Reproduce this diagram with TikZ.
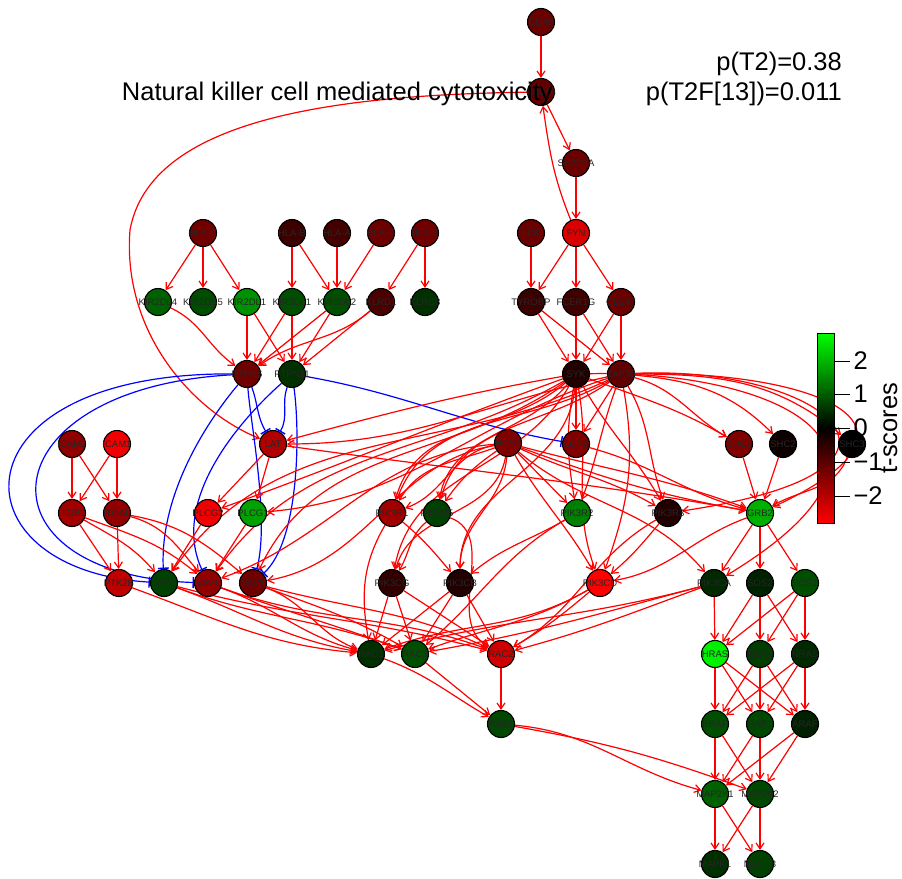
\documentclass[tikz,border=0pt]{standalone}
\usepackage{fontspec}
\setmainfont{Liberation Sans}
\usetikzlibrary{arrows.meta}
\pgfdeclarelayer{bg}
\pgfsetlayers{bg,main}
\newcommand{\gl}[1]{\makebox[0pt]{#1}}

\begin{document}
\begin{tikzpicture}[x=1pt,y=-1pt,
  gene/.style={circle,draw=black,line width=1.1pt,minimum size=27pt,inner sep=0pt,
    font=\fontsize{9.5}{9.5}\selectfont,text=black!85},
  act/.style={red,line width=1.2pt,-{Straight Barb[length=6pt,width=8pt]}},
  inh/.style={blue,line width=1.2pt,-{Bar[width=11pt,line width=1.4pt]}},
  big/.style={font=\fontsize{25.5}{25.5}\selectfont,inner sep=0pt}]
\useasboundingbox (0,0) rectangle (902,878);
% genes, row by row
\node[gene,fill=red!42!black] (CD48) at (541,22) {\gl{CD48}};
\node[gene,fill=red!38!black] (CD244) at (541,92) {\gl{CD244}};
\node[gene,fill=red!42!black] (SH2D1A) at (576,163) {\gl{SH2D1A}};
\node[gene,fill=red!44!black] (HLAC) at (203,233) {\gl{HLA-C}};
\node[gene,fill=red!23!black] (HLAB) at (292,233) {\gl{HLA-B}};
\node[gene,fill=red!26!black] (HLAA) at (337,233) {\gl{HLA-A}};
\node[gene,fill=red!42!black] (HLAG) at (381,233) {\gl{HLA-G}};
\node[gene,fill=red!44!black] (HLAE) at (425,233) {\gl{HLA-E}};
\node[gene,fill=red!42!black] (LCK) at (531,233) {\gl{LCK}};
\node[gene,fill=red!85!black] (FYN) at (576,233) {\gl{FYN}};
\node[gene,fill=green!38!black] (KIR2DL4) at (158,302) {\gl{KIR2DL4}};
\node[gene,fill=green!30!black] (KIR2DS5) at (203,302) {\gl{KIR2DS5}};
\node[gene,fill=green!57!black] (KIR2DL1) at (247,302) {\gl{KIR2DL1}};
\node[gene,fill=green!31!black] (KIR3DL1) at (292,302) {\gl{KIR3DL1}};
\node[gene,fill=green!31!black] (KIR3DL2) at (337,302) {\gl{KIR3DL2}};
\node[gene,fill=red!29!black] (KLRD1) at (381,302) {\gl{KLRD1}};
\node[gene,fill=green!19!black] (KLRC3) at (425,302) {\gl{KLRC3}};
\node[gene,fill=red!23!black] (TYROBP) at (531,302) {\gl{TYROBP}};
\node[gene,fill=red!25!black] (FCER1G) at (576,302) {\gl{FCER1G}};
\node[gene,fill=red!42!black] (CD247) at (621,302) {\gl{CD247}};
\node[gene,fill=red!44!black] (PTPN6) at (247,374) {\gl{PTPN6}};
\node[gene,fill=green!19!black] (PTPN11) at (292,374) {\gl{PTPN11}};
\node[gene,fill=red!13!black] (SYK) at (576,374) {\gl{SYK}};
\node[gene,fill=red!38!black] (ZAP70) at (621,374) {\gl{ZAP70}};
\node[gene,fill=red!57!black] (ICAM2) at (72,444) {\gl{ICAM2}};
\node[gene,fill=red!95!black] (ICAM1) at (117,444) {\gl{ICAM1}};
\node[gene,fill=red!69!black] (LAT) at (273,444) {\gl{LAT}};
\node[gene,fill=red!50!black] (HCST) at (508,443) {\gl{HCST}};
\node[gene,fill=red!50!black] (LCP2) at (576,444) {\gl{LCP2}};
\node[gene,fill=red!50!black] (SHC1) at (739,444) {\gl{SHC1}};
\node[gene,fill=red!5!black] (SHC2) at (783,444) {\gl{SHC2}};
\node[gene,fill=black] (SHC3) at (852,444) {\gl{SHC3}};
\node[gene,fill=red!63!black] (ITGB2) at (72,513) {\gl{ITGB2}};
\node[gene,fill=red!57!black] (ITGAL) at (117,513) {\gl{ITGAL}};
\node[gene,fill=red!94!black] (PLCG2) at (208,513) {\gl{PLCG2}};
\node[gene,fill=green!63!black] (PLCG1) at (253,513) {\gl{PLCG1}};
\node[gene,fill=red!63!black] (PIK3R1) at (392,513) {\gl{PIK3R1}};
\node[gene,fill=green!25!black] (PIK3R5) at (437,513) {\gl{PIK3R5}};
\node[gene,fill=green!50!black] (PIK3R2) at (577,513) {\gl{PIK3R2}};
\node[gene,fill=red!13!black] (PIK3R3) at (668,513) {\gl{PIK3R3}};
\node[gene,fill=green!69!black] (GRB2) at (760,513) {\gl{GRB2}};
\node[gene,fill=red!75!black] (PTK2B) at (119,583) {\gl{PTK2B}};
\node[gene,fill=green!25!black] (VAV2) at (164,583) {\gl{VAV2}};
\node[gene,fill=red!57!black] (VAV1) at (208,583) {\gl{VAV1}};
\node[gene,fill=red!44!black] (VAV3) at (253,583) {\gl{VAV3}};
\node[gene,fill=red!19!black] (PIK3CG) at (392,583) {\gl{PIK3CG}};
\node[gene,fill=red!13!black] (PIK3CB) at (460,583) {\gl{PIK3CB}};
\node[gene,fill=red] (PIK3CD) at (600,583) {\gl{PIK3CD}};
\node[gene,fill=green!16!black] (PIK3CA) at (714,583) {\gl{PIK3CA}};
\node[gene,fill=green!13!black] (SOS2) at (760,583) {\gl{SOS2}};
\node[gene,fill=green!31!black] (SOS1) at (805,583) {\gl{SOS1}};
\node[gene,fill=green!19!black] (RAC1) at (371,654) {\gl{RAC1}};
\node[gene,fill=green!31!black] (RAC3) at (415,654) {\gl{RAC3}};
\node[gene,fill=red!82!black] (RAC2) at (501,654) {\gl{RAC2}};
\node[gene,fill=green!94!black] (HRAS) at (715,654) {\gl{HRAS}};
\node[gene,fill=green!24!black] (KRAS) at (760,654) {\gl{KRAS}};
\node[gene,fill=green!16!black] (NRAS) at (805,654) {\gl{NRAS}};
\node[gene,fill=green!28!black] (PAK1) at (501,724) {\gl{PAK1}};
\node[gene,fill=green!31!black] (BRAF) at (715,724) {\gl{BRAF}};
\node[gene,fill=green!28!black] (RAF1) at (760,724) {\gl{RAF1}};
\node[gene,fill=green!13!black] (ARAF) at (805,724) {\gl{ARAF}};
\node[gene,fill=green!38!black] (MAP2K1) at (715,794) {\gl{MAP2K1}};
\node[gene,fill=green!28!black] (MAP2K2) at (760,794) {\gl{MAP2K2}};
\node[gene,fill=green!19!black] (MAPK1) at (715,864) {\gl{MAPK1}};
\node[gene,fill=green!25!black] (MAPK3) at (760,864) {\gl{MAPK3}};

\begin{pgfonlayer}{bg}
% top of the pathway
\draw[act] (CD48) -- (CD244);
\draw[act] (CD244) -- (SH2D1A);
\draw[act] (SH2D1A) -- (FYN);
\draw[act] (FYN) to[out=112,in=-82] (CD244);
\draw[act] (CD244) .. controls (330,95) and (150,120) .. (130,230) .. controls (122,330) and (190,410) .. (LAT);
\draw[act] (HLAC) -- (KIR2DL4);
\draw[act] (HLAC) -- (KIR2DS5);
\draw[act] (HLAC) -- (KIR2DL1);
\draw[act] (HLAB) -- (KIR3DL1);
\draw[act] (HLAB) -- (KIR3DL2);
\draw[act] (HLAA) -- (KIR3DL2);
\draw[act] (HLAG) -- (KIR3DL2);
\draw[act] (HLAE) -- (KLRD1);
\draw[act] (HLAE) -- (KLRC3);
\draw[act] (LCK) -- (TYROBP);
\draw[act] (FYN) -- (TYROBP);
\draw[act] (FYN) -- (FCER1G);
\draw[act] (FYN) -- (CD247);
% receptors to phosphatases
\draw[act] (KIR2DL4) to[out=-25,in=145] (PTPN6);
\draw[act] (KIR2DL1) -- (PTPN6);
\draw[act] (KIR2DL1) -- (PTPN11);
\draw[act] (KIR3DL1) -- (PTPN6);
\draw[act] (KIR3DL1) -- (PTPN11);
\draw[act] (KIR3DL2) -- (PTPN6);
\draw[act] (KIR3DL2) -- (PTPN11);
\draw[act] (KLRD1) to[out=-140,in=35] (PTPN6);
\draw[act] (KLRD1) -- (PTPN11);
\draw[act] (TYROBP) -- (SYK);
\draw[act] (TYROBP) -- (ZAP70);
\draw[act] (FCER1G) -- (SYK);
\draw[act] (FCER1G) -- (ZAP70);
\draw[act] (CD247) -- (SYK);
\draw[act] (CD247) -- (ZAP70);
% phosphatases
\draw[inh] (PTPN6) .. controls (-50,372) and (-50,570) .. (VAV2);
\draw[inh] (PTPN6) .. controls (-15,388) and (-30,575) .. (VAV1);
\draw[inh] (PTPN6) to[out=-70,in=120] (LAT);
\draw[inh] (PTPN11) to[out=-110,in=60] (LAT);
\draw[inh] (PTPN6) .. controls (250,420) and (270,520) .. (VAV3);
\draw[inh] (PTPN11) .. controls (300,430) and (300,540) .. (VAV3);
\draw[inh] (PTPN6) .. controls (200,430) and (160,500) .. (VAV2);
\draw[inh] (PTPN11) .. controls (240,420) and (170,500) .. (VAV1);
\draw[inh] (PTPN11) to[out=-10,in=170] (LCP2);
% kinases fan out
\draw[act] (SYK) to[out=190,in=15] (LAT);
\draw[act] (ZAP70) to[out=192,in=0] (LAT);
\draw[act] (SYK) to[out=200,in=20] (PLCG2);
\draw[act] (ZAP70) to[out=198,in=5] (PLCG1);
\draw[act] (SYK) to[out=210,in=55] (VAV1);
\draw[act] (SYK) to[out=215,in=65] (VAV3);
\draw[act] (ZAP70) to[out=205,in=55] (VAV2);
\draw[act] (SYK) to[out=220,in=75] (PIK3R1);
\draw[act] (SYK) to[out=230,in=80] (PIK3R5);
\draw[act] (ZAP70) to[out=210,in=70] (PIK3R1);
\draw[act] (ZAP70) to[out=215,in=75] (PIK3R5);
\draw[act] (SYK) -- (LCP2);
\draw[act] (ZAP70) -- (LCP2);
\draw[act] (SYK) to[out=-100,in=100] (PIK3R2);
\draw[act] (ZAP70) to[out=-110,in=70] (PIK3R2);
\draw[act] (SYK) to[out=-60,in=120] (PIK3R3);
\draw[act] (ZAP70) to[out=-60,in=110] (PIK3R3);
\draw[act] (SYK) to[out=-20,in=150] (SHC1);
\draw[act] (ZAP70) to[out=-15,in=150] (SHC1);
\draw[act] (ZAP70) to[out=-5,in=135] (SHC2);
\draw[act] (ZAP70) to[out=0,in=140] (SHC3);
\draw[act] (ZAP70) .. controls (800,370) and (960,420) .. (GRB2);
\draw[act] (ZAP70) .. controls (820,365) and (960,470) .. (PIK3R3);
\draw[act] (SYK) .. controls (760,370) and (950,440) .. (PIK3CA);
\draw[act] (SYK) to[out=-120,in=80] (PIK3CG);
\draw[act] (SYK) to[out=-95,in=90] (PIK3CB);
\draw[act] (ZAP70) to[out=-80,in=70] (PIK3CD);
\draw[act] (SYK) to[out=-80,in=110] (PIK3CD);
% adaptors
\draw[act] (ICAM2) -- (ITGB2);
\draw[act] (ICAM2) -- (ITGAL);
\draw[act] (ICAM1) -- (ITGB2);
\draw[act] (ICAM1) -- (ITGAL);
\draw[act] (LAT) -- (PLCG2);
\draw[act] (LAT) -- (PLCG1);
\draw[act] (LAT) to[out=-8,in=170] (GRB2);
\draw[act] (LCP2) to[out=-15,in=165] (GRB2);
\draw[act] (SHC1) -- (GRB2);
\draw[act] (SHC2) -- (GRB2);
\draw[act] (SHC3) to[out=-110,in=30] (GRB2);
\draw[act] (HCST) to[out=200,in=60] (PIK3R1);
\draw[act] (HCST) to[out=215,in=55] (PIK3R5);
\draw[act] (HCST) to[out=190,in=20] (PIK3R1);
\draw[act] (HCST) -- (PIK3R2);
\draw[act] (HCST) to[out=-25,in=150] (PIK3R3);
\draw[act] (HCST) to[out=-20,in=170] (GRB2);
\draw[act] (HCST) to[out=-15,in=160] (GRB2);
\draw[act] (HCST) to[out=-100,in=75] (PIK3CG);
\draw[act] (HCST) to[out=-95,in=90] (PIK3CB);
\draw[act] (HCST) to[out=-60,in=120] (PIK3CD);
\draw[act] (HCST) to[out=-40,in=130] (PIK3CA);
\draw[act] (HCST) to[out=190,in=10] (VAV3);
\draw[act] (HCST) to[out=185,in=20] (VAV1);
% integrins
\draw[act] (ITGB2) -- (PTK2B);
\draw[act] (ITGAL) -- (PTK2B);
\draw[act] (ITGB2) to[out=-30,in=130] (VAV2);
\draw[act] (ITGB2) to[out=-20,in=140] (VAV1);
\draw[act] (ITGAL) to[out=-15,in=130] (VAV1);
\draw[act] (ITGAL) to[out=-10,in=140] (VAV3);
\draw[act] (PLCG2) -- (VAV2);
\draw[act] (PLCG1) -- (VAV1);
% PI3K subunits
\draw[act] (PIK3R1) to[out=-120,in=100] (RAC1);
\draw[act] (PIK3R1) to[out=-40,in=130] (PIK3CB);
\draw[act] (PIK3R5) to[out=-140,in=60] (PIK3CG);
\draw[act] (PIK3R5) to[out=-20,in=150] (RAC2);
\draw[act] (PIK3R2) to[out=-150,in=40] (PIK3CB);
\draw[act] (PIK3R2) to[out=-150,in=40] (RAC3);
\draw[act] (PIK3R3) to[out=-150,in=30] (RAC2);
\draw[act] (PIK3R3) to[out=-130,in=40] (PIK3CD);
\draw[act] (GRB2) to[out=-160,in=10] (PIK3CD);
\draw[act] (GRB2) -- (PIK3CA);
\draw[act] (GRB2) -- (SOS2);
\draw[act] (GRB2) -- (SOS1);
% to the Rac genes
\draw[act] (PTK2B) to[out=-20,in=175] (RAC1);
\draw[act] (VAV2) to[out=-20,in=170] (RAC1);
\draw[act] (VAV2) to[out=-20,in=160] (RAC3);
\draw[act] (VAV1) to[out=-20,in=165] (RAC1);
\draw[act] (VAV1) to[out=-20,in=160] (RAC3);
\draw[act] (VAV1) to[out=-20,in=160] (RAC2);
\draw[act] (VAV3) to[out=-20,in=160] (RAC1);
\draw[act] (VAV3) to[out=-20,in=150] (RAC3);
\draw[act] (VAV3) to[out=-15,in=155] (RAC2);
\draw[act] (VAV2) to[out=-15,in=165] (RAC2);
\draw[act] (PIK3CG) -- (RAC1);
\draw[act] (PIK3CG) -- (RAC3);
\draw[act] (PIK3CG) -- (RAC2);
\draw[act] (PIK3CB) -- (RAC1);
\draw[act] (PIK3CB) -- (RAC3);
\draw[act] (PIK3CB) -- (RAC2);
\draw[act] (PIK3CD) to[out=-150,in=20] (RAC1);
\draw[act] (PIK3CD) to[out=-150,in=20] (RAC3);
\draw[act] (PIK3CD) to[out=-140,in=30] (RAC2);
\draw[act] (PIK3CA) to[out=-165,in=15] (RAC1);
\draw[act] (PIK3CA) to[out=-165,in=10] (RAC3);
\draw[act] (PIK3CA) to[out=-160,in=15] (RAC2);
\draw[act] (RAC1) to[out=-20,in=150] (PAK1);
\draw[act] (RAC3) -- (PAK1);
\draw[act] (RAC2) -- (PAK1);
\draw[act] (PAK1) to[out=-5,in=165] (MAP2K1);
\draw[act] (PAK1) to[out=-10,in=160] (MAP2K2);
% Ras to MAPK
\draw[act] (SOS2) -- (HRAS);
\draw[act] (SOS2) -- (KRAS);
\draw[act] (SOS2) -- (NRAS);
\draw[act] (SOS1) -- (HRAS);
\draw[act] (SOS1) -- (KRAS);
\draw[act] (SOS1) -- (NRAS);
\draw[act] (PIK3CA) -- (HRAS);
\draw[act] (HRAS) -- (BRAF);
\draw[act] (HRAS) -- (RAF1);
\draw[act] (HRAS) -- (ARAF);
\draw[act] (KRAS) -- (BRAF);
\draw[act] (KRAS) -- (RAF1);
\draw[act] (KRAS) -- (ARAF);
\draw[act] (NRAS) -- (BRAF);
\draw[act] (NRAS) -- (RAF1);
\draw[act] (NRAS) -- (ARAF);
\draw[act] (BRAF) -- (MAP2K1);
\draw[act] (BRAF) -- (MAP2K2);
\draw[act] (RAF1) -- (MAP2K1);
\draw[act] (RAF1) -- (MAP2K2);
\draw[act] (ARAF) -- (MAP2K1);
\draw[act] (ARAF) -- (MAP2K2);
\draw[act] (MAP2K1) -- (MAPK1);
\draw[act] (MAP2K1) -- (MAPK3);
\draw[act] (MAP2K2) -- (MAPK1);
\draw[act] (MAP2K2) -- (MAPK3);
\end{pgfonlayer}

% titles
\node[big,anchor=base east] (title) at (553,100) {Natural killer cell mediated cytotoxicity};
\node[big,anchor=base east] (pT2) at (842,70) {p(T2)=0.38};
\node[big,anchor=base east] (pT2F) at (842,100) {p(T2F[13])=0.011};
% colour key
\shade[top color=green,bottom color=red,middle color=black] (817,333) rectangle (834,523);
\draw[line width=1pt] (817,333) rectangle (834,523);
\foreach \yy/\lab in {361/2,394/1,428/0,462/−1,496/−2}
  \draw[line width=1pt] (834,\yy) -- (850,\yy) node[big,anchor=west,inner sep=3pt] {\lab};
\node[big,rotate=90] (tscores) at (889,428) {t-scores};
\end{tikzpicture}
\end{document}
